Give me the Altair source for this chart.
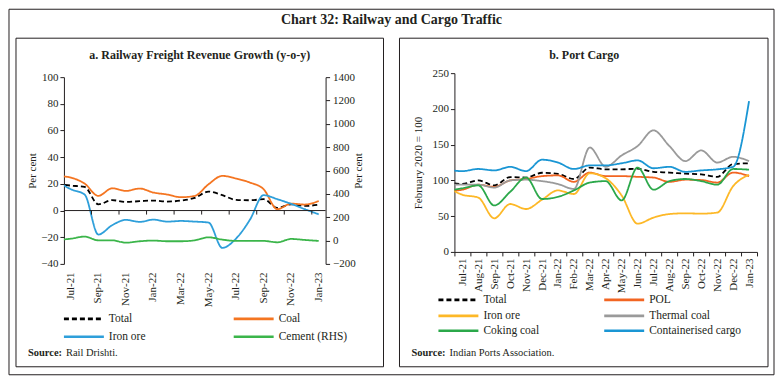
import altair as alt
import pandas as pd

# ---------------- data ----------------
months = ["Jul-21", "Aug-21", "Sep-21", "Oct-21", "Nov-21", "Dec-21", "Jan-22", "Feb-22",
          "Mar-22", "Apr-22", "May-22", "Jun-22", "Jul-22", "Aug-22", "Sep-22", "Oct-22",
          "Nov-22", "Dec-22", "Jan-23"]
lead_month = "Jun-21"  # lead-in point, lies left of the axis and is clipped

# a. Railway freight revenue growth (y-o-y, per cent); first value = Jun-21
rail_series = ["Total", "Coal", "Iron ore", "Cement (RHS)"]
rail_total = [20, 18.7, 17.7, 4.7, 7.8, 6.5, 7.0, 7.5, 6.7, 7.5, 9.5, 14.2, 11.5, 8.0, 7.7, 8.5, 2.0, 4.7, 3.5, 4.3]
rail_coal = [26, 24.7, 20.2, 11.0, 16.7, 14.7, 16.5, 13.5, 12.0, 10.0, 11.0, 19.7, 26.0, 24.0, 21.0, 16.0, 1.0, 5.2, 4.5, 7.2]
rail_iron = [22, 16.0, 12.0, -18.0, -11.0, -7.0, -8.5, -6.8, -8.3, -7.8, -8.3, -9.0, -28.0, -21.0, -7.0, 11.5, 8.5, 5.0, 1.0, -2.8]
rail_cement = [6, 16, 34, 2, 2, -18, -6, 0, -6, -6, 2, 28, 8, -3, -3, -3, -15, 14, 5, -3]
rail_colors = ["#000000", "#F47521", "#2E9FDA", "#3BB54A"]

# b. Port cargo (February 2020 = 100); first value = Jun-21
port_series = ["Total", "POL", "Iron ore", "Thermal coal", "Coking coal", "Containerised cargo"]
port_total = [98, 95, 100, 93, 104.7, 104, 110.7, 109, 102, 118, 115.5, 115.5, 116.4, 112, 111, 109.4, 108.5, 105, 123, 124]
port_pol = [85, 87, 94, 91, 100, 102, 106, 107, 98, 111, 106, 106, 105, 104, 98, 101, 100.5, 97, 111, 106]
port_iron = [91, 80, 76, 47, 67, 60, 73, 86, 81, 110, 103, 79, 39.5, 48, 53, 54, 53.5, 55, 92, 108]
port_thermal = [94, 94, 94, 90, 100, 101, 99, 95, 88, 146, 119, 135, 148, 170, 148, 127, 142, 125, 133, 127]
port_coking = [85, 89, 93, 65, 84, 104, 74, 77, 86, 97, 99, 72, 118, 87, 99, 102, 99, 94, 116, 115]
port_container = [115, 113, 116, 114, 119, 113, 129, 125, 116, 121, 121, 124, 128, 117, 119, 112, 114, 115.5, 119, 211]
port_colors = ["#000000", "#F26522", "#FDB827", "#9A9A9A", "#2BA84A", "#1A96D4"]

FONT = "Liberation Serif"
TXT = "#231F20"


def long_df(names, arrays):
    rows = []
    for name, vals in zip(names, arrays):
        for k, v in enumerate(vals):
            rows.append({"idx": k - 1, "month": ([lead_month] + months)[k], "series": name, "value": v})
    return pd.DataFrame(rows)


def legend_df(names, col_x, row_y, sym=40, gap=5):
    rows = []
    for k, n in enumerate(names):
        x0 = col_x[k % 2]
        rows.append({"series": n, "lx": x0, "lx2": x0 + sym, "tx": x0 + sym + gap, "ly": row_y[k // 2]})
    return pd.DataFrame(rows)


one = pd.DataFrame({"a": [0]})
xq = alt.Scale(domain=[-0.5, len(months) - 0.5], nice=False, zero=False)
band = alt.Scale(type="band", domain=months, paddingInner=0, paddingOuter=0)


def dash_scale(names):
    return alt.Scale(domain=names, range=[[5, 3]] + [[1, 0]] * (len(names) - 1))


def legend_layers(names, colors, col_x, row_y):
    ld = legend_df(names, col_x, row_y)
    rules = alt.Chart(ld).mark_rule(strokeWidth=2.6).encode(
        x=alt.X("lx:Q", scale=None, axis=None),
        x2="lx2:Q",
        y=alt.Y("ly:Q", scale=None, axis=None),
        color=alt.Color("series:N", scale=alt.Scale(domain=names, range=colors), legend=None),
        strokeDash=alt.StrokeDash("series:N", scale=dash_scale(names), legend=None),
    )
    texts = alt.Chart(ld).mark_text(align="left", baseline="middle", font=FONT, fontSize=11.5, color=TXT).encode(
        x=alt.X("tx:Q", scale=None, axis=None),
        y=alt.Y("ly:Q", scale=None, axis=None),
        text="series:N",
    )
    return [rules, texts]


def box(x, x2, y, y2):
    return alt.Chart(one).mark_rect(fillOpacity=0, stroke=TXT, strokeWidth=1).encode(
        x=alt.value(x), x2=alt.value(x2), y=alt.value(y), y2=alt.value(y2))


def label(text, x, y, size=11, weight="normal", align="center"):
    return alt.Chart(one).mark_text(text=text, font=FONT, fontSize=size, fontWeight=weight,
                                    align=align, baseline="middle", color=TXT).encode(
        x=alt.value(x), y=alt.value(y))


# ---------------- panel a ----------------
W1, H1 = 262, 191
yl = alt.Scale(domain=[-40, 100], range=[H1, 4], nice=False, zero=False)
yr = alt.Scale(domain=[-200, 1400], range=[H1, 4], nice=False, zero=False)
rail_color = alt.Scale(domain=rail_series, range=rail_colors)
left_axis = alt.Axis(values=list(range(-40, 101, 20)), title="Per cent", tickSize=4, labelPadding=2,
                     titlePadding=3, labelOverlap=False, format="d")

rail_df = long_df(rail_series[:3], [rail_total, rail_coal, rail_iron])
cem_df = long_df(rail_series[3:], [rail_cement])

rail_lines = alt.Chart(rail_df).mark_line(interpolate="monotone", strokeWidth=1.8, clip=True).encode(
    x=alt.X("idx:Q", scale=xq, axis=None),
    y=alt.Y("value:Q", scale=yl, axis=left_axis),
    color=alt.Color("series:N", scale=rail_color, legend=None),
    strokeDash=alt.StrokeDash("series:N", scale=dash_scale(rail_series), legend=None),
    order="idx:Q",
)
zero_rule = alt.Chart(one).mark_rule(color=TXT, strokeWidth=1).encode(
    y=alt.Y(datum=0, scale=yl, axis=left_axis))
tick_df = pd.DataFrame({"tx": [i - 0.5 for i in range(2, len(months), 2)]})
zero_ticks = alt.Chart(tick_df).mark_rule(color=TXT, strokeWidth=1).encode(
    x=alt.X("tx:Q", scale=xq, axis=None),
    y=alt.Y(datum=0, scale=yl, axis=left_axis),
    y2=alt.Y2(datum=-3))
rail_main = alt.layer(rail_lines, zero_rule, zero_ticks)

cem_line = alt.Chart(cem_df).mark_line(interpolate="monotone", strokeWidth=1.8, clip=True).encode(
    x=alt.X("idx:Q", scale=xq, axis=None),
    y=alt.Y("value:Q", scale=yr, axis=alt.Axis(orient="right", values=list(range(-200, 1401, 200)),
                                                title="Per cent", titleAngle=270, tickSize=4,
                                                labelPadding=3, titlePadding=8,
                                                labelOverlap=False, format="d")),
    color=alt.Color("series:N", scale=rail_color, legend=None),
    strokeDash=alt.StrokeDash("series:N", scale=dash_scale(rail_series), legend=None),
    order="idx:Q",
)
rail_axis = alt.Chart(pd.DataFrame({"month": months})).mark_tick(opacity=0).encode(
    x=alt.X("month:O", scale=band, sort=months,
            axis=alt.Axis(orient="bottom", values=months[::2], labelAngle=270, ticks=False, domain=False,
                          title=None, labelPadding=8, labelOverlap=False)))

panel_a = alt.layer(
    rail_main, cem_line, rail_axis,
    *legend_layers(rail_series, rail_colors, [0, 170], [246, 264]),
    box(-55, 711, -64, 302),            # outer frame
    box(-48, 320, -35, 294),            # panel frame
    label("Chart 32: Railway and Cargo Traffic", 328, -53, size=14, weight="bold"),
    label("a. Railway Freight Revenue Growth (y-o-y)", 136, -18, size=12, weight="bold"),
    label("Source:", -36, 280, size=10.5, weight="bold", align="left"),
    label("Rail Drishti.", 2, 280, size=10.5, align="left"),
).resolve_scale(x="independent", y="independent").properties(width=W1, height=H1)

# ---------------- panel b ----------------
W2, H2 = 303, 179
port_df = long_df(port_series, [port_total, port_pol, port_iron, port_thermal, port_coking, port_container])
port_lines = alt.Chart(port_df).mark_line(interpolate="monotone", strokeWidth=1.8, clip=True).encode(
    x=alt.X("idx:Q", scale=xq, axis=None),
    y=alt.Y("value:Q", scale=alt.Scale(domain=[0, 250], nice=False),
            axis=alt.Axis(values=list(range(0, 251, 50)), title="February 2020 = 100",
                          tickSize=4, labelPadding=2, titlePadding=8, labelOverlap=False)),
    color=alt.Color("series:N", scale=alt.Scale(domain=port_series, range=port_colors), legend=None),
    strokeDash=alt.StrokeDash("series:N", scale=dash_scale(port_series), legend=None),
    order="idx:Q",
)
port_axis = alt.Chart(pd.DataFrame({"month": months})).mark_tick(opacity=0).encode(
    x=alt.X("month:O", scale=band, sort=months,
            axis=alt.Axis(orient="bottom", labelAngle=270, tickBand="extent", tickSize=4,
                          title=None, labelPadding=2, labelOverlap=False)))

panel_b = alt.layer(
    port_lines, port_axis,
    *legend_layers(port_series, port_colors, [-16, 150], [227, 243, 258]),
    box(-55, 314, -35, 294),
    label("b. Port Cargo", 130, -18, size=12, weight="bold"),
    label("Source:", -43, 280, size=10.5, weight="bold", align="left"),
    label("Indian Ports Association.", -5, 280, size=10.5, align="left"),
).resolve_scale(x="independent", y="independent").properties(width=W2, height=H2)

chart = alt.hconcat(panel_a, panel_b, spacing=129, bounds="flush").resolve_scale(
    color="independent", strokeDash="independent"
).properties(padding=0).configure_view(
    stroke="transparent"
).configure_axis(
    labelFont=FONT, titleFont=FONT, labelFontSize=11, titleFontSize=11, titleFontWeight="normal",
    labelColor=TXT, titleColor=TXT, domainColor=TXT, tickColor=TXT, grid=False,
)

chart.save("out.html", embed_options={"renderer": "svg", "actions": False})
